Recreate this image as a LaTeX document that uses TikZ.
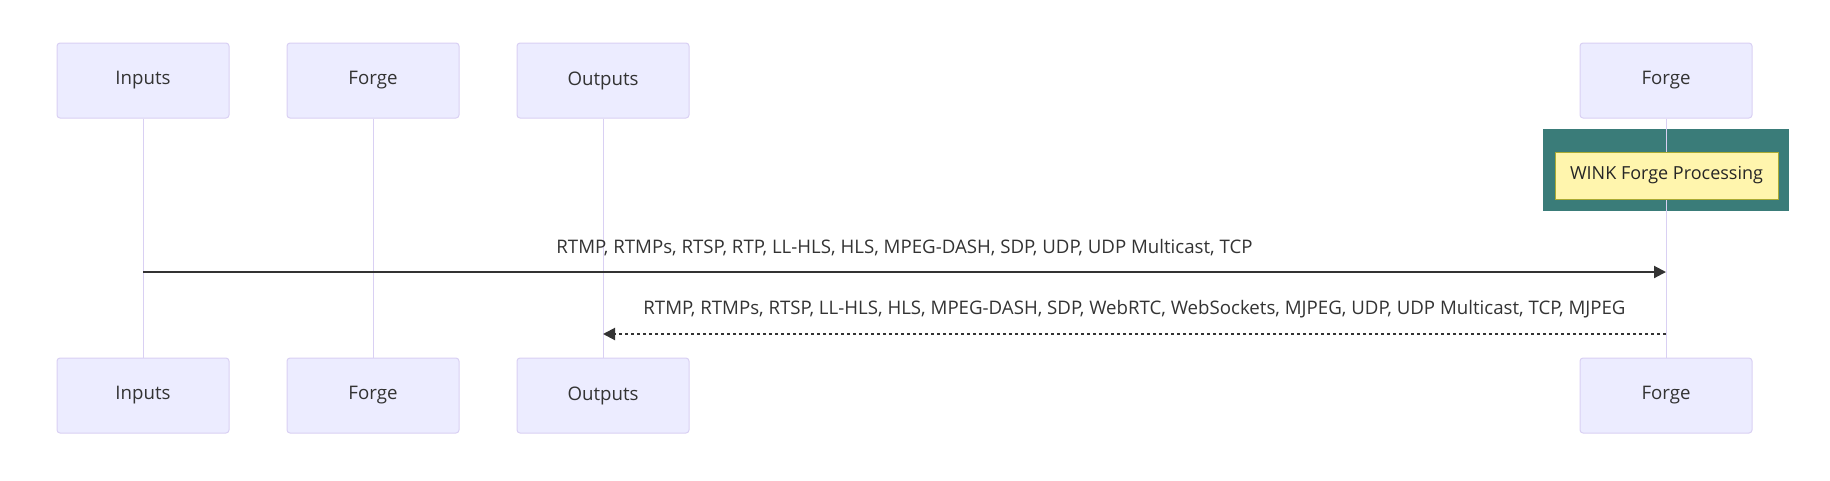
\documentclass[tikz,border=0pt]{standalone}
\usepackage{fontspec}
\setmainfont{Open Sans}
\usetikzlibrary{arrows.meta,positioning}
\definecolor{actorfill}{HTML}{ECECFF}
\definecolor{actorline}{HTML}{D9D0F3}
\definecolor{msgline}{HTML}{333333}
\definecolor{notefill}{HTML}{FFF5AD}
\definecolor{noteline}{HTML}{AAAA33}
\definecolor{rectfill}{HTML}{3A7C79}

\begin{document}
\begin{tikzpicture}[
  x=0.75pt, y=-0.75pt,
  font=\fontsize{14}{16}\selectfont,
  >={Triangle[length=9pt,width=9pt]},
  node distance=179.25pt and 42.75pt,
  actor/.style={draw=actorline,fill=actorfill,rounded corners=2.25pt,line width=0.75pt,
    minimum width=129pt,minimum height=56.25pt,inner sep=0pt,text=msgline},
  life/.style={draw=actorline,line width=0.75pt},
  msg/.style={draw=msgline,line width=1.5pt,->},
  reply/.style={msg,dash pattern=on 2.25pt off 2.25pt},
  lbl/.style={inner sep=0pt,text=msgline,above=11.5pt},
  note/.style={draw=noteline,fill=notefill,line width=0.75pt,
    minimum width=167.25pt,minimum height=35.25pt,inner sep=0pt,text=black!85},
  hl/.style={fill=rectfill,minimum width=184.5pt,minimum height=61.5pt,inner sep=0pt}
]
\useasboundingbox (0,0) rectangle (1830,480);

% actors, top row
\node[actor] (inTop) at (143,80.5) {Inputs};
\node[actor,right=of inTop] (fgTop) {Forge};
\node[actor,right=of fgTop] (outTop) {Outputs};
\node[actor] (wkTop) at (1666,80.5) {Forge};

% actors, bottom row
\node[actor,below=of inTop] (inBot) {Inputs};
\node[actor,below=of fgTop] (fgBot) {Forge};
\node[actor,below=of outTop] (outBot) {Outputs};
\node[actor,below=of wkTop] (wkBot) {Forge};

% highlight rect behind the note
\node[hl] (hlRect) at (1666,170) {};

% lifelines
\draw[life] (inTop) -- (inBot);
\draw[life] (fgTop) -- (fgBot);
\draw[life] (outTop) -- (outBot);
\draw[life] (wkTop) -- (wkBot);

% note over Forge
\node[note,font=\fontsize{13.5}{16}\selectfont] (wkNote) at (1666.5,175.5) {WINK Forge Processing};

% messages
\coordinate (inM1) at (inTop.center |- 0,272);
\coordinate (wkM1) at (wkTop.center |- 0,272);
\coordinate (wkM2) at (wkTop.center |- 0,334);
\coordinate (outM2) at (outTop.center |- 0,334);

\draw[msg] (inM1) -- (wkM1)
  node[lbl,midway] (lblIn) {RTMP, RTMPs, RTSP, RTP, LL-HLS, HLS, MPEG-DASH, SDP, UDP, UDP Multicast, TCP};
\draw[reply] (wkM2) -- (outM2)
  node[lbl,midway] (lblOut) {RTMP, RTMPs, RTSP, LL-HLS, HLS, MPEG-DASH, SDP, WebRTC, WebSockets, MJPEG, UDP, UDP Multicast, TCP, MJPEG};
\end{tikzpicture}
\end{document}
